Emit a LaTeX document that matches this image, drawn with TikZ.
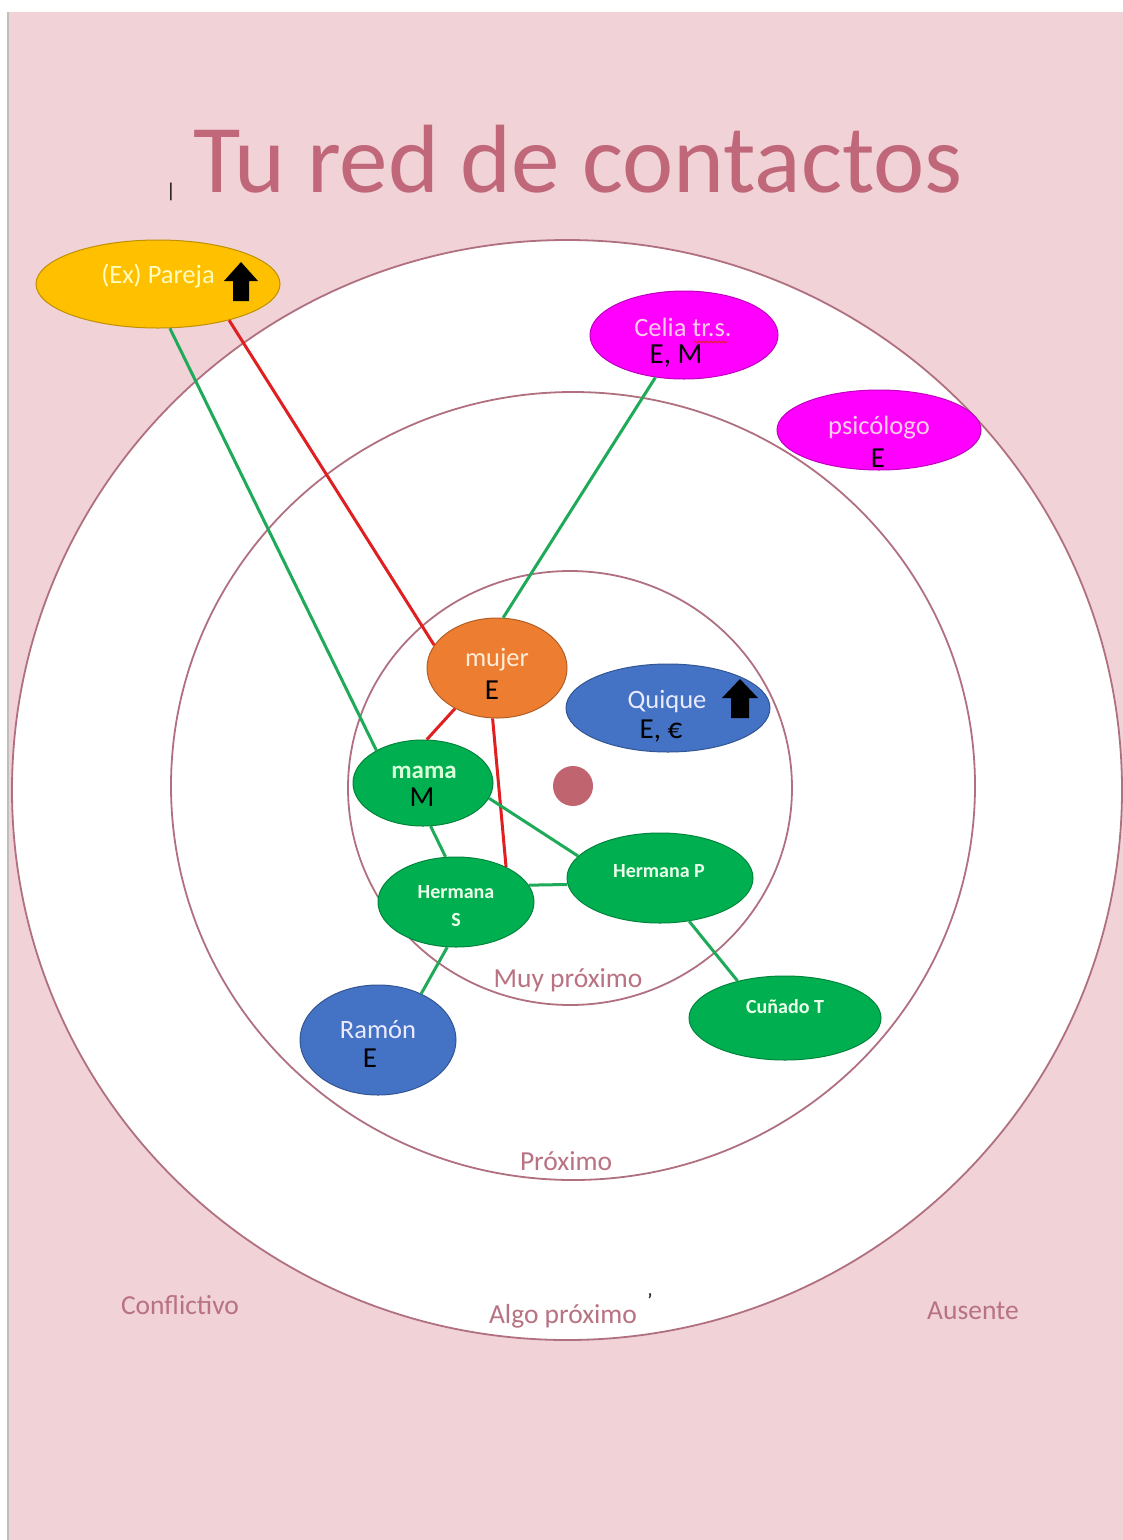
\documentclass[tikz,border=0pt]{standalone}
\usepackage{fontspec}
\setmainfont{Carlito}
\usetikzlibrary{shapes.geometric,decorations.pathmorphing}
\definecolor{bgpink}{HTML}{F0D2D7}
\definecolor{ring}{HTML}{B07080}
\definecolor{dotc}{HTML}{C0646F}
\definecolor{titlec}{HTML}{C0687A}
\definecolor{lblc}{HTML}{B87282}
\definecolor{cyel}{HTML}{FFC000}
\definecolor{cmag}{HTML}{FF00FF}
\definecolor{cora}{HTML}{ED7D31}
\definecolor{cblu}{HTML}{4472C4}
\definecolor{cgrn}{HTML}{00B050}
\definecolor{lgrn}{HTML}{1EAA58}
\definecolor{lred}{HTML}{E02020}
\tikzset{
  bubble/.style={ellipse, draw=#1!75!black, fill=#1, inner sep=0pt, line width=1pt},
  wtext/.style={inner sep=0pt, font=\fontsize{26.5}{28}\selectfont},
  stext/.style={inner sep=0pt, text=white!92!green, font=\bfseries\fontsize{20}{22}\selectfont},
  ktext/.style={inner sep=0pt, text=black, font=\fontsize{29}{31}\selectfont},
  ringlbl/.style={inner sep=0pt, text=lblc, font=\fontsize{27.5}{29}\selectfont},
  gline/.style={draw=lgrn, line width=3pt},
  rline/.style={draw=lred, line width=3pt},
}
\begin{document}
\begin{tikzpicture}[x=1pt,y=-1pt]
\useasboundingbox (0,0) rectangle (1123,1540);
\fill[white] (0,0) rectangle (1123,1540);
\fill[bgpink] (8,12) rectangle (1123,1540);
\draw[gray!50, line width=1.5pt] (8,12) -- (8,1540);
% rings
\draw[ring, fill=white, line width=1.8pt] (567,790) ellipse [x radius=555, y radius=550];
\draw[ring, line width=1.8pt] (573,786) ellipse [x radius=402, y radius=394];
\draw[ring, line width=1.8pt] (570,788) ellipse [x radius=222, y radius=217];
\fill[dotc] (573,786) circle (20);
% title
\node[inner sep=0pt, text=titlec, font=\fontsize{97}{107}\selectfont, anchor=base] (title) at (578,192) {Tu red de contactos};
\node[inner sep=0pt, font=\fontsize{20}{20}\selectfont] (cursor) at (171,192) {|};
% ring labels
\node[ringlbl] (muy) at (568,980) {Muy próximo};
\node[ringlbl] (prox) at (566,1161) {Próximo};
\node[ringlbl] (algo) at (563,1316) {Algo próximo};
\node[inner sep=0pt, font=\bfseries\fontsize{18}{18}\selectfont, text=black!80] (tick) at (650,1300) {'};
\node[ringlbl] (confl) at (180,1305) {Conflictivo};
\node[ringlbl] (aus) at (973,1311) {Ausente};
% bubbles
\node[bubble=cyel, minimum width=244pt, minimum height=88pt] (pareja) at (158,284) {};
\node[bubble=cmag, minimum width=188pt, minimum height=88pt] (celia) at (684,335) {};
\node[bubble=cmag, minimum width=204pt, minimum height=80pt] (psico) at (879,430) {};
\node[bubble=cora, minimum width=140pt, minimum height=100pt] (mujer) at (497,668) {};
\node[bubble=cblu, minimum width=204pt, minimum height=88pt] (quique) at (668,708) {};
\node[bubble=cgrn, minimum width=140pt, minimum height=86pt] (mama) at (423,783) {};
\node[bubble=cgrn, minimum width=156pt, minimum height=90pt] (hermS) at (456,902) {};
\node[bubble=cgrn, minimum width=186pt, minimum height=90pt] (hermP) at (660,878) {};
\node[bubble=cblu, minimum width=156pt, minimum height=110pt] (ramon) at (378,1040) {};
\node[bubble=cgrn, minimum width=192pt, minimum height=84pt] (cunado) at (785,1018) {};
% connectors
\draw[gline] (pareja.-75) -- (mama.145);
\draw[rline] (pareja.-27) -- (mujer.160);
\draw[gline] (celia.-124) -- (mujer.83);
\draw[rline] (mujer.-136) -- (mama.85);
\draw[rline] (mujer.-95) -- (hermS.35);
\draw[gline] (mama.-13) -- (hermP.165);
\draw[gline] (mama.-80) -- (hermS.103);
\draw[gline] (hermS.13) -- (hermP.-176);
\draw[gline] (hermS.-101) -- (ramon.47);
\draw[gline] (hermP.-56) -- (cunado.142);
% texts
\node[wtext, text=yellow!25] (tpareja) at (158,276) {(Ex) Pareja};
\fill[black] (241,262) -- (258,281) -- (249,281) -- (249,301) -- (233,301) -- (233,281) -- (224,281) -- cycle;
\node[wtext, text=magenta!20] (tcelia) at (683,327) {Celia tr.s.};
\draw[lred, line width=0.8pt, decorate, decoration={snake, amplitude=1pt, segment length=4pt}] (694,342) -- (727,342);
\node[ktext] (kcelia) at (676,356) {E, M};
\node[wtext, text=magenta!20] (tpsico) at (879,428) {psicólogo};
\node[ktext] (kpsico) at (878,458) {E};
\node[wtext, text=orange!15] (tmujer) at (497,660) {mujer};
\node[ktext] (kmujer) at (492,690) {E};
\node[wtext, text=blue!8] (tquique) at (667,702) {Quique};
\fill[black] (740,679) -- (758,698) -- (749,698) -- (749,718) -- (731,718) -- (731,698) -- (722,698) -- cycle;
\node[ktext] (kquique) at (661,731) {E, €};
\node[wtext, text=green!15, font=\bfseries\fontsize{25}{27}\selectfont] (tmama) at (424,772) {mama};
\node[ktext] (kmama) at (422,797) {M};
\node[stext] (thermS) at (456,892) {Hermana};
\node[stext] (thermS2) at (456,920) {S};
\node[stext] (thermP) at (659,871) {Hermana P};
\node[wtext, text=blue!8] (tramon) at (378,1030) {Ramón};
\node[ktext] (kramon) at (370,1058) {E};
\node[stext] (tcunado) at (785,1007) {Cuñado T};
\end{tikzpicture}
\end{document}
